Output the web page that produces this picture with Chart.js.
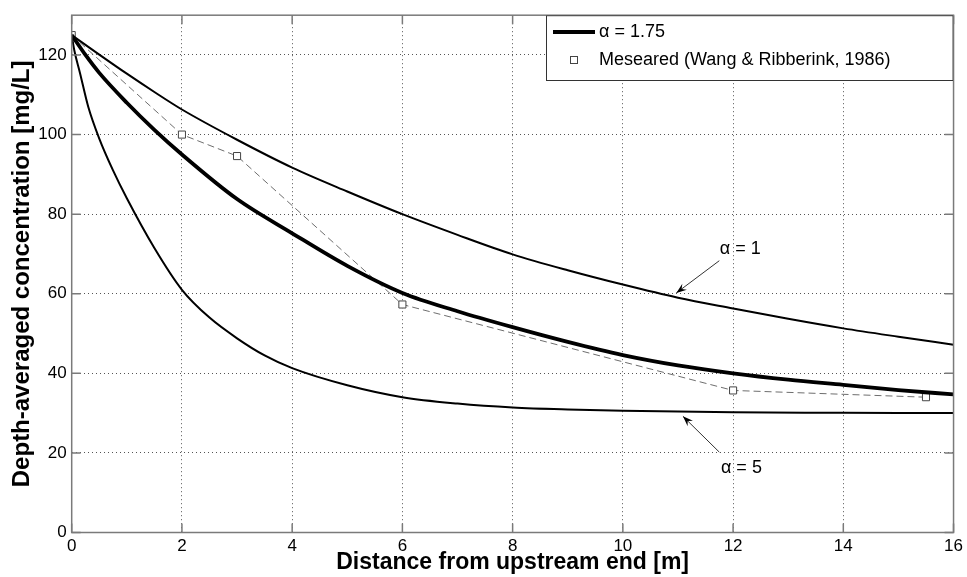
<!DOCTYPE html>
<html>
<head>
<meta charset="utf-8">
<script src="https://cdn.jsdelivr.net/npm/chart.js@4.4.1/dist/chart.umd.min.js"></script>
<style>
  html, body { margin: 0; padding: 0; background: #fff; }
  #wrap { width: 967px; height: 577px; }
</style>
</head>
<body>
<div id="wrap"><canvas id="concChart" width="967" height="577"></canvas></div>
<script>
// Tick values
const xTicks = [0, 2, 4, 6, 8, 10, 12, 14, 16];
const yTicks = [0, 20, 40, 60, 80, 100, 120];

// alpha = 1 (thin upper curve)
const alpha1X = [0, 0.5, 1, 1.5, 2, 3, 4, 5, 6, 7, 8, 9, 10, 11, 12, 13, 14, 15, 16];
const alpha1Y = [125, 120.1, 115.3, 110.7, 106.3, 98.7, 91.7, 85.7, 80, 74.8, 69.9, 65.9, 62.3, 59, 56.3, 53.7, 51.3, 49.2, 47.2];

// alpha = 1.75 (thick curve)
const alpha175X = [0, 0.25, 0.5, 1, 1.5, 2, 3, 4, 5, 6, 7, 8, 9, 10, 11, 12, 13, 14, 15, 16];
const alpha175Y = [125, 120, 115.5, 108, 101.2, 95, 83.8, 75.2, 67, 60.2, 55.6, 51.6, 47.9, 44.6, 42, 40, 38.4, 37.1, 35.8, 34.7];

// alpha = 5 (thin lower curve)
const alpha5X = [0, 0.05, 0.15, 0.3, 0.5, 0.75, 1, 1.5, 2, 2.5, 3, 3.5, 4, 5, 6, 7, 8, 9, 10, 12, 14, 16];
const alpha5Y = [125, 121, 115.5, 107, 99, 91, 84, 71.5, 61, 54, 48.8, 44.5, 41.3, 37, 34, 32.4, 31.4, 30.9, 30.6, 30.2, 30.1, 30];

// Measured data (Wang & Ribberink, 1986)
const measuredX = [0, 2, 3, 6, 12, 15.5];
const measuredY = [125, 100, 94.6, 57.3, 35.7, 34];

const toPoints = (xs, ys) => xs.map((x, i) => ({ x: x, y: ys[i] }));

const FONT = "'Liberation Sans', Arial, sans-serif";
Chart.defaults.font.family = FONT;
Chart.defaults.color = '#000';

// MATLAB style box + inward ticks
const framePlugin = {
    id: 'matlabFrame',
    afterDatasetsDraw(chart) {
        const { ctx, chartArea: a, scales: { x, y } } = chart;
        const tick = 9;
        ctx.save();
        ctx.strokeStyle = '#7a7a7a';
        ctx.lineWidth = 1.5;
        ctx.beginPath();
        xTicks.forEach(v => {
            const px = x.getPixelForValue(v);
            ctx.moveTo(px, a.bottom); ctx.lineTo(px, a.bottom - tick);
            ctx.moveTo(px, a.top); ctx.lineTo(px, a.top + tick);
        });
        yTicks.forEach(v => {
            const py = y.getPixelForValue(v);
            ctx.moveTo(a.left, py); ctx.lineTo(a.left + tick, py);
            ctx.moveTo(a.right, py); ctx.lineTo(a.right - tick, py);
        });
        ctx.stroke();
        ctx.strokeRect(a.left, a.top, a.right - a.left, a.bottom - a.top);
        ctx.restore();
    }
};

// Curve labels with arrows
const labelPlugin = {
    id: 'curveLabels',
    afterDatasetsDraw(chart) {
        const { ctx, scales: { x, y } } = chart;
        const notes = chart.options.plugins.curveLabels.items;
        ctx.save();
        notes.forEach(n => {
            ctx.font = '18px ' + FONT;
            ctx.fillStyle = '#000';
            ctx.textBaseline = 'middle';
            ctx.fillText(n.text, x.getPixelForValue(n.tx), y.getPixelForValue(n.ty));
            const x1 = x.getPixelForValue(n.from[0]), y1 = y.getPixelForValue(n.from[1]);
            const x2 = x.getPixelForValue(n.to[0]), y2 = y.getPixelForValue(n.to[1]);
            ctx.strokeStyle = '#333';
            ctx.lineWidth = 1;
            ctx.beginPath();
            ctx.moveTo(x1, y1); ctx.lineTo(x2, y2);
            ctx.stroke();
            const ang = Math.atan2(y2 - y1, x2 - x1);
            const len = 11, wid = 0.35;
            ctx.fillStyle = '#000';
            ctx.beginPath();
            ctx.moveTo(x2, y2);
            ctx.lineTo(x2 - len * Math.cos(ang - wid), y2 - len * Math.sin(ang - wid));
            ctx.lineTo(x2 - len * 0.6 * Math.cos(ang), y2 - len * 0.6 * Math.sin(ang));
            ctx.lineTo(x2 - len * Math.cos(ang + wid), y2 - len * Math.sin(ang + wid));
            ctx.closePath();
            ctx.fill();
        });
        ctx.restore();
    }
};

// Legend box in the top right corner of the plot
const legendPlugin = {
    id: 'boxLegend',
    afterDraw(chart) {
        const { ctx, chartArea: a } = chart;
        const ds = chart.data.datasets;
        const right = a.right, top = a.top;
        const left = 546, bottom = 81;
        ctx.save();
        ctx.fillStyle = '#fff';
        ctx.fillRect(left, top, right - left, bottom - top);
        ctx.strokeStyle = '#333';
        ctx.lineWidth = 1;
        ctx.strokeRect(left + 0.5, top + 0.5, right - left - 1, bottom - top - 1);
        ctx.font = '18px ' + FONT;
        ctx.textBaseline = 'middle';
        ctx.fillStyle = '#000';
        // row 1: thick line
        const r1 = 32, r2 = 60;
        ctx.strokeStyle = '#000';
        ctx.lineWidth = ds[1].borderWidth;
        ctx.beginPath();
        ctx.moveTo(553, r1); ctx.lineTo(595, r1);
        ctx.stroke();
        ctx.fillText(ds[1].label, 599, r1);
        // row 2: square marker
        ctx.fillStyle = '#fff';
        ctx.strokeStyle = '#444';
        ctx.lineWidth = 1;
        ctx.fillRect(570.5, r2 - 3.5, 7, 7);
        ctx.strokeRect(570.5, r2 - 3.5, 7, 7);
        ctx.fillStyle = '#000';
        ctx.fillText(ds[3].label, 599, r2);
        ctx.restore();
    }
};

const ctx = document.getElementById('concChart').getContext('2d');

new Chart(ctx, {
    type: 'line',
    data: {
        datasets: [
            {
                label: 'α = 1',
                data: toPoints(alpha1X, alpha1Y),
                borderColor: '#000',
                borderWidth: 2,
                pointRadius: 0,
                cubicInterpolationMode: 'monotone'
            },
            {
                label: 'α = 1.75',
                data: toPoints(alpha175X, alpha175Y),
                borderColor: '#000',
                borderWidth: 3.8,
                pointRadius: 0,
                cubicInterpolationMode: 'monotone'
            },
            {
                label: 'α = 5',
                data: toPoints(alpha5X, alpha5Y),
                borderColor: '#000',
                borderWidth: 2,
                pointRadius: 0,
                cubicInterpolationMode: 'monotone'
            },
            {
                label: 'Meseared (Wang & Ribberink, 1986)',
                data: toPoints(measuredX, measuredY),
                borderColor: '#6e6e6e',
                borderWidth: 1,
                borderDash: [7, 4],
                pointStyle: 'rect',
                pointRadius: 5,
                pointBorderColor: '#444',
                pointBackgroundColor: '#fff',
                pointBorderWidth: 1,
                tension: 0
            }
        ]
    },
    options: {
        responsive: false,
        animation: false,
        layout: { padding: { top: 9, right: 11, left: 0, bottom: 0 } },
        scales: {
            x: {
                type: 'linear',
                min: 0,
                max: 16,
                afterBuildTicks: s => { s.ticks = xTicks.map(v => ({ value: v })); },
                afterFit: s => { s.height = 44.5; },
                ticks: { font: { size: 17 }, padding: 4, maxRotation: 0 },
                grid: { color: '#555', lineWidth: 1, drawTicks: false },
                border: { display: false, dash: [1, 3] },
                title: {
                    display: true,
                    text: 'Distance from upstream end [m]',
                    font: { size: 23, weight: 'bold' },
                    padding: { top: 0, bottom: 1 }
                }
            },
            y: {
                min: 0,
                max: 130,
                afterBuildTicks: s => { s.ticks = yTicks.map(v => ({ value: v })); },
                afterFit: s => { s.width = 71.7; },
                ticks: { font: { size: 17 }, padding: 5 },
                grid: { color: '#555', lineWidth: 1, drawTicks: false },
                border: { display: false, dash: [1, 3] },
                title: {
                    display: true,
                    text: 'Depth-averaged concentration [mg/L]',
                    font: { size: 24, weight: 'bold' },
                    padding: { top: 8, bottom: 0 }
                }
            }
        },
        plugins: {
            legend: { display: false },
            tooltip: { enabled: false },
            curveLabels: {
                items: [
                    { text: 'α = 1', tx: 11.76, ty: 71.2, from: [11.75, 68.3], to: [10.97, 60.2] },
                    { text: 'α = 5', tx: 11.78, ty: 16.2, from: [11.75, 20.2], to: [11.09, 29.2] }
                ]
            }
        }
    },
    plugins: [framePlugin, labelPlugin, legendPlugin]
});
</script>
</body>
</html>
